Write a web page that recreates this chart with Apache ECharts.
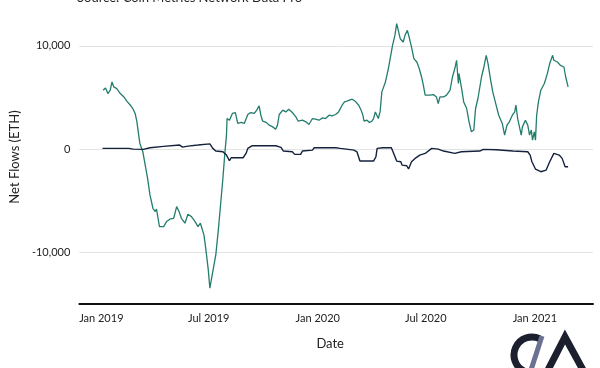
<!DOCTYPE html>
<html>
<head>
<meta charset="utf-8">
<script src="https://cdn.jsdelivr.net/npm/echarts@6/dist/echarts.min.js"></script>
<style>html,body{margin:0;padding:0;background:#fff}#c{width:600px;height:368px}</style>
</head>
<body>
<div id="c"></div>
<script>
const titleText = 'Source: Coin Metrics Network Data Pro';
const xTickDates = ['2019-01-01','2019-07-01','2020-01-01','2020-07-01','2021-01-01'];
const yTickValues = [-10000, 0, 10000];

const greenDates = ['2019-01-04','2019-01-08','2019-01-12','2019-01-16','2019-01-19','2019-01-22','2019-01-27','2019-02-02','2019-02-08','2019-02-13','2019-02-19','2019-02-23','2019-02-27','2019-03-02','2019-03-05','2019-03-07','2019-03-12','2019-03-16','2019-03-20','2019-03-24','2019-03-29','2019-04-02','2019-04-04','2019-04-09','2019-04-16','2019-04-21','2019-04-27','2019-05-03','2019-05-08','2019-05-12','2019-05-16','2019-05-22','2019-05-27','2019-06-02','2019-06-08','2019-06-13','2019-06-17','2019-06-20','2019-06-23','2019-06-26','2019-06-30','2019-07-03','2019-07-05','2019-07-08','2019-07-13','2019-07-17','2019-07-21','2019-07-25','2019-07-28','2019-07-31','2019-08-01','2019-08-05','2019-08-10','2019-08-15','2019-08-19','2019-08-25','2019-08-30','2019-09-05','2019-09-10','2019-09-16','2019-09-20','2019-09-24','2019-09-27','2019-09-30','2019-10-06','2019-10-11','2019-10-17','2019-10-22','2019-10-25','2019-10-28','2019-11-03','2019-11-08','2019-11-13','2019-11-19','2019-11-25','2019-11-29','2019-12-06','2019-12-12','2019-12-17','2019-12-23','2019-12-28','2020-01-03','2020-01-09','2020-01-14','2020-01-20','2020-01-25','2020-01-31','2020-02-05','2020-02-11','2020-02-15','2020-02-19','2020-02-28','2020-03-04','2020-03-10','2020-03-14','2020-03-17','2020-03-19','2020-03-24','2020-03-28','2020-04-01','2020-04-04','2020-04-07','2020-04-10','2020-04-12','2020-04-15','2020-04-18','2020-04-24','2020-04-29','2020-05-02','2020-05-06','2020-05-10','2020-05-13','2020-05-16','2020-05-19','2020-05-22','2020-05-24','2020-05-27','2020-05-31','2020-06-03','2020-06-07','2020-06-11','2020-06-16','2020-06-20','2020-06-24','2020-06-27','2020-06-30','2020-07-03','2020-07-08','2020-07-14','2020-07-19','2020-07-22','2020-07-25','2020-07-31','2020-08-05','2020-08-11','2020-08-15','2020-08-19','2020-08-22','2020-08-25','2020-08-26','2020-08-30','2020-09-03','2020-09-08','2020-09-12','2020-09-16','2020-09-20','2020-09-23','2020-09-27','2020-10-03','2020-10-07','2020-10-11','2020-10-14','2020-10-18','2020-10-22','2020-10-27','2020-11-01','2020-11-07','2020-11-11','2020-11-15','2020-11-19','2020-11-24','2020-11-28','2020-11-30','2020-12-03','2020-12-06','2020-12-09','2020-12-11','2020-12-16','2020-12-20','2020-12-23','2020-12-26','2020-12-28','2020-12-31','2021-01-02','2021-01-04','2021-01-07','2021-01-11','2021-01-17','2021-01-22','2021-01-26','2021-01-31','2021-02-02','2021-02-08','2021-02-13','2021-02-19','2021-02-22','2021-02-26'];
const greenValues = [5700,5920,5380,5700,6500,6020,5860,5380,5050,4640,4250,3930,3450,2640,1350,550,-260,-1550,-2830,-4440,-5730,-6050,-5800,-7500,-7500,-7020,-6760,-6700,-5570,-6050,-6700,-7180,-6310,-6540,-7020,-7500,-7180,-7340,-8310,-9590,-11520,-13460,-12820,-11850,-10240,-7990,-5410,-2830,-580,1350,2960,2800,3450,3540,2480,2580,2480,3350,3540,3450,3770,4180,3280,2700,2580,2320,2150,1930,2320,3350,3770,3600,3860,3540,3120,2700,2800,2640,2380,2960,2900,2800,3020,2960,3280,3220,3350,3600,4250,4570,4640,4830,4640,4250,3770,3280,2700,2800,2580,2700,2960,3600,3770,2960,3600,5540,6500,7800,8760,10050,11010,12140,11980,10690,10850,10370,11010,11500,10850,9880,8760,8430,7800,6980,6180,5220,5380,5220,5280,5050,4410,5050,5050,5220,5700,6980,7800,8600,6350,7310,6020,4570,3930,2640,1670,1840,3930,4900,6980,7950,9080,8280,6830,5540,4410,3280,2480,1350,2320,2640,3280,3600,4250,2960,2150,1350,2150,2800,2320,1350,1840,870,1670,870,3280,4570,5700,6350,7310,8280,9080,8600,8430,8110,7950,6980,6020];

const navyDates = ['2019-01-03','2019-02-16','2019-02-24','2019-03-13','2019-03-24','2019-04-16','2019-05-13','2019-05-18','2019-05-27','2019-06-13','2019-06-16','2019-07-03','2019-07-08','2019-07-13','2019-07-25','2019-07-31','2019-08-02','2019-08-05','2019-08-08','2019-08-28','2019-09-02','2019-09-05','2019-09-12','2019-10-22','2019-10-31','2019-11-04','2019-11-19','2019-11-23','2019-12-03','2019-12-06','2019-12-23','2019-12-26','2020-01-31','2020-02-08','2020-03-02','2020-03-07','2020-03-12','2020-04-04','2020-04-08','2020-04-10','2020-04-20','2020-05-04','2020-05-08','2020-05-13','2020-05-20','2020-05-22','2020-05-30','2020-06-02','2020-06-05','2020-06-07','2020-06-13','2020-06-21','2020-06-30','2020-07-03','2020-07-11','2020-07-22','2020-07-31','2020-08-19','2020-08-30','2020-09-30','2020-10-06','2020-10-28','2020-11-25','2020-12-20','2020-12-24','2020-12-27','2021-01-02','2021-01-11','2021-01-20','2021-01-26','2021-02-02','2021-02-11','2021-02-16','2021-02-21','2021-02-26'];
const navyValues = [70,70,0,-30,130,260,390,190,290,390,550,510,70,-190,-260,-580,-420,-1130,-840,-840,-420,70,320,320,160,-190,-260,-510,-510,-190,-100,130,130,70,-100,-260,-1160,-1160,-740,70,130,130,-420,-1160,-1230,-1550,-1610,-1930,-1930,-1230,-900,-580,-420,-260,70,0,-190,-420,-260,-190,-30,-70,-190,-260,-580,-1230,-1930,-2190,-2030,-1230,-420,-580,-900,-1710,-1710];

const ts = s => Date.UTC(+s.slice(0, 4), +s.slice(5, 7) - 1, +s.slice(8, 10));
const zip = (d, v) => d.map((x, i) => [ts(x), v[i]]);
const MONTHS = ['Jan','Feb','Mar','Apr','May','Jun','Jul','Aug','Sep','Oct','Nov','Dec'];
const chart = echarts.init(document.getElementById('c'), null, {renderer: 'canvas'});
const FONT = 'Lato, "Open Sans", sans-serif';
const dark = '#1b1f2e';

chart.setOption({
  animation: false,
  backgroundColor: '#fff',
  grid: {left: 77, right: 7, top: 20, bottom: 64},
  xAxis: {
    type: 'value',
    min: ts('2018-11-25'),
    max: ts('2021-04-09'),
    name: 'Date',
    nameLocation: 'middle',
    nameGap: 33,
    nameTextStyle: {fontFamily: FONT, fontSize: 13, color: '#222', padding: [0, 12, 0, 0]},
    axisLine: {show: true, onZero: false, lineStyle: {color: '#111', width: 2}},
    axisTick: {show: false},
    splitLine: {show: false},
    axisLabel: {
      customValues: xTickDates.map(ts),
      formatter: v => { const d = new Date(v); return MONTHS[d.getUTCMonth()] + ' ' + d.getUTCFullYear(); },
      fontFamily: FONT, fontSize: 11, color: '#222', margin: 9
    }
  },
  yAxis: {
    type: 'value',
    min: -15000,
    max: 12500,
    interval: 5000,
    name: 'Net Flows (ETH)',
    nameLocation: 'middle',
    nameGap: 54,
    nameTextStyle: {fontFamily: FONT, fontSize: 13, color: '#222', padding: [0, 0, 0, 10]},
    axisLine: {show: false},
    axisTick: {show: false},
    axisLabel: {
      formatter: v => yTickValues.indexOf(v) >= 0 ? v.toLocaleString('en-US') : '',
      fontFamily: FONT, fontSize: 11, color: '#222', margin: 9
    },
    splitLine: {show: true, lineStyle: {color: ['rgba(0,0,0,0)', '#e3e3e3'], width: 1}}
  },
  series: [
    {name: 'Series 1', type: 'line', data: zip(greenDates, greenValues), showSymbol: false, lineStyle: {color: '#237d6d', width: 1.3}, itemStyle: {color: '#237d6d'}, z: 3},
    {name: 'Series 2', type: 'line', data: zip(navyDates, navyValues), showSymbol: false, lineStyle: {color: '#14213d', width: 1.4}, itemStyle: {color: '#14213d'}, z: 4}
  ],
  graphic: [
    {type: 'text', left: 77, top: -9, style: {text: titleText, font: '13px ' + FONT, fill: '#222'}},
    {type: 'arc', shape: {cx: 532, cy: 355, r: 18, startAngle: -65 * Math.PI / 180, endAngle: 65 * Math.PI / 180, clockwise: false}, style: {stroke: dark, lineWidth: 7, fill: 'none'}},
    {type: 'line', shape: {x1: 542, y1: 336, x2: 531, y2: 370}, style: {stroke: '#6b7190', lineWidth: 5}},
    {type: 'polyline', shape: {points: [[548, 370], [565, 337], [583, 370]]}, style: {stroke: dark, lineWidth: 7, fill: 'none'}}
  ]
});
</script>
</body>
</html>
